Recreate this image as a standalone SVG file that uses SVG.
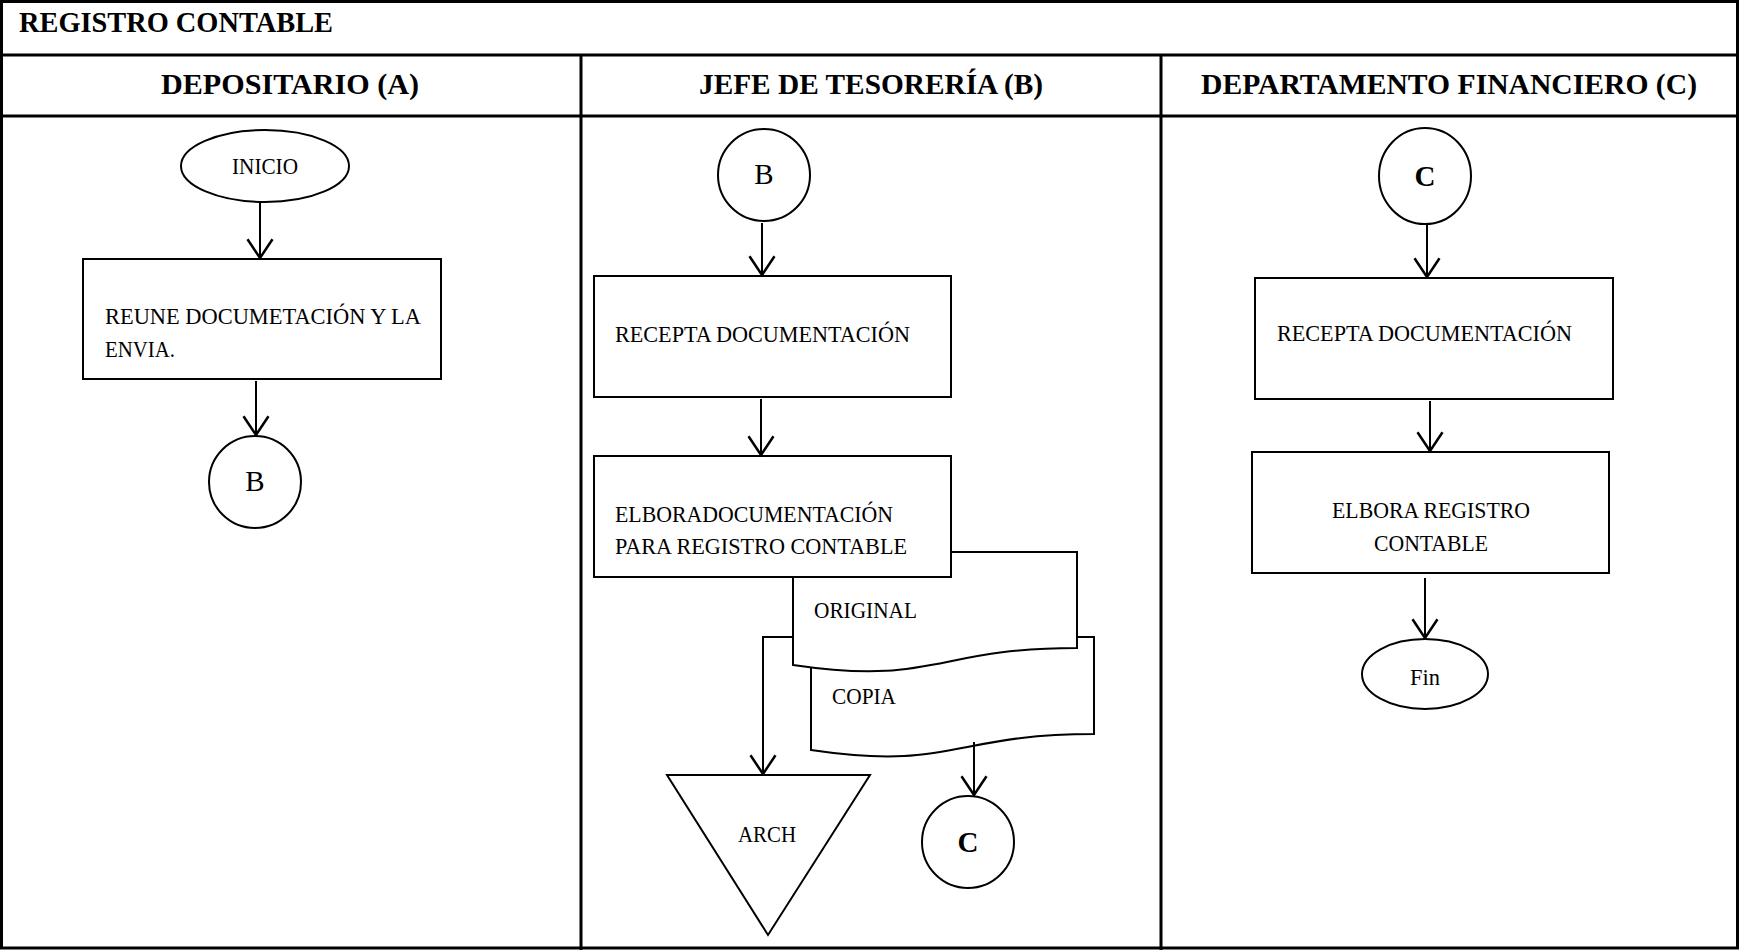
<svg xmlns="http://www.w3.org/2000/svg" width="1739" height="950" viewBox="0 0 1739 950">
<style>
.t{font-family:"Liberation Serif","Times New Roman",serif;font-size:22.5px;fill:#000}
.h{font-family:"Liberation Serif","Times New Roman",serif;font-size:30px;font-weight:bold;fill:#000}
.big{font-family:"Liberation Serif","Times New Roman",serif;font-size:29px;fill:#000}
.s{fill:#fff;stroke:#000;stroke-width:2}
.grid{fill:none;stroke:#000;stroke-width:3}
.c{fill:none;stroke:#000;stroke-width:2}
</style>
<defs>
<marker id="arr" markerUnits="userSpaceOnUse" markerWidth="30" markerHeight="30" refX="0" refY="0" orient="auto" viewBox="-16 -12 18 24" overflow="visible">
<path d="M-15,-10 L0,0 L-15,10" fill="none" stroke="#000" stroke-width="2"/>
</marker>
</defs>
<rect width="1739" height="950" fill="#fff"/>
<g id="table">
<rect class="grid" x="1.5" y="1.5" width="1736" height="946.5"/>
<line class="grid" x1="0" y1="55" x2="1739" y2="55"/>
<line class="grid" x1="0" y1="116" x2="1739" y2="116"/>
<line class="grid" x1="581" y1="55" x2="581" y2="950"/>
<line class="grid" x1="1161" y1="55" x2="1161" y2="950"/>
<text class="h" x="19" y="32" textLength="314" lengthAdjust="spacingAndGlyphs">REGISTRO CONTABLE</text>
<text class="h" x="290" y="94" text-anchor="middle" textLength="258" lengthAdjust="spacingAndGlyphs">DEPOSITARIO (A)</text>
<text class="h" x="871" y="94" text-anchor="middle" textLength="344" lengthAdjust="spacingAndGlyphs">JEFE DE TESORERÍA (B)</text>
<text class="h" x="1449" y="94" text-anchor="middle" textLength="496" lengthAdjust="spacingAndGlyphs">DEPARTAMENTO FINANCIERO (C)</text>
</g>
<g id="copia">
<path class="s" d="M811,637 H1094 V734 C952.5,734 952.5,771 811,750 Z"/>
<text class="t" x="832" y="704" textLength="64" lengthAdjust="spacingAndGlyphs">COPIA</text>
</g>
<g id="original">
<path class="s" d="M793,552 H1077 V648 C935,648 935,686 793,665 Z"/>
<text class="t" x="814" y="618" textLength="103" lengthAdjust="spacingAndGlyphs">ORIGINAL</text>
</g>
<g id="inicio">
<ellipse class="s" cx="265" cy="166" rx="84" ry="36"/>
<text class="t" x="265" y="174" text-anchor="middle" textLength="66" lengthAdjust="spacingAndGlyphs">INICIO</text>
</g>
<g id="reune">
<rect class="s" x="83" y="259" width="358" height="120"/>
<text class="t" x="105" y="324" textLength="316" lengthAdjust="spacingAndGlyphs">REUNE DOCUMETACIÓN Y LA</text>
<text class="t" x="105" y="357" textLength="70" lengthAdjust="spacingAndGlyphs">ENVIA.</text>
</g>
<g id="conB1">
<circle class="s" cx="255" cy="482" r="46"/>
<text class="big" x="255" y="491" text-anchor="middle">B</text>
</g>
<g id="conB2">
<circle class="s" cx="764" cy="175" r="46"/>
<text class="big" x="764" y="184" text-anchor="middle">B</text>
</g>
<g id="receptaB">
<rect class="s" x="594" y="276" width="357" height="121"/>
<text class="t" x="615" y="342" textLength="295" lengthAdjust="spacingAndGlyphs">RECEPTA DOCUMENTACIÓN</text>
</g>
<g id="elboraB">
<rect class="s" x="594" y="456" width="357" height="121"/>
<text class="t" x="615" y="522" textLength="278" lengthAdjust="spacingAndGlyphs">ELBORADOCUMENTACIÓN</text>
<text class="t" x="615" y="554" textLength="292" lengthAdjust="spacingAndGlyphs">PARA REGISTRO CONTABLE</text>
</g>
<g id="arch">
<polygon class="s" points="667,775 870,775 768,935"/>
<text class="t" x="767" y="842" text-anchor="middle" textLength="58" lengthAdjust="spacingAndGlyphs">ARCH</text>
</g>
<g id="conC1">
<circle class="s" cx="968" cy="842" r="46"/>
<text class="big" x="968" y="852" text-anchor="middle" font-weight="bold">C</text>
</g>
<g id="conC2">
<ellipse class="s" cx="1425" cy="176" rx="46" ry="48"/>
<text class="big" x="1425" y="186" text-anchor="middle" font-weight="bold">C</text>
</g>
<g id="receptaC">
<rect class="s" x="1255" y="278" width="358" height="121"/>
<text class="t" x="1277" y="341" textLength="295" lengthAdjust="spacingAndGlyphs">RECEPTA DOCUMENTACIÓN</text>
</g>
<g id="elboraC">
<rect class="s" x="1252" y="452" width="357" height="121"/>
<text class="t" x="1431" y="518" text-anchor="middle" textLength="198" lengthAdjust="spacingAndGlyphs">ELBORA REGISTRO</text>
<text class="t" x="1431" y="551" text-anchor="middle" textLength="114" lengthAdjust="spacingAndGlyphs">CONTABLE</text>
</g>
<g id="fin">
<ellipse class="s" cx="1425" cy="674" rx="63" ry="35"/>
<text class="t" x="1425" y="685" text-anchor="middle" font-size="26">Fin</text>
</g>
<g id="connectors">
<line class="c" x1="260" y1="203" x2="260" y2="258" marker-end="url(#arr)"/>
<line class="c" x1="256" y1="381" x2="256" y2="435" marker-end="url(#arr)"/>
<line class="c" x1="762" y1="223" x2="762" y2="275" marker-end="url(#arr)"/>
<line class="c" x1="761" y1="399" x2="761" y2="455" marker-end="url(#arr)"/>
<polyline class="c" points="793,637 763,637 763,774" marker-end="url(#arr)"/>
<line class="c" x1="974" y1="742" x2="974" y2="795" marker-end="url(#arr)"/>
<line class="c" x1="1427" y1="224" x2="1427" y2="277" marker-end="url(#arr)"/>
<line class="c" x1="1430" y1="401" x2="1430" y2="451" marker-end="url(#arr)"/>
<line class="c" x1="1425" y1="578" x2="1425" y2="638" marker-end="url(#arr)"/>
</g>
</svg>
